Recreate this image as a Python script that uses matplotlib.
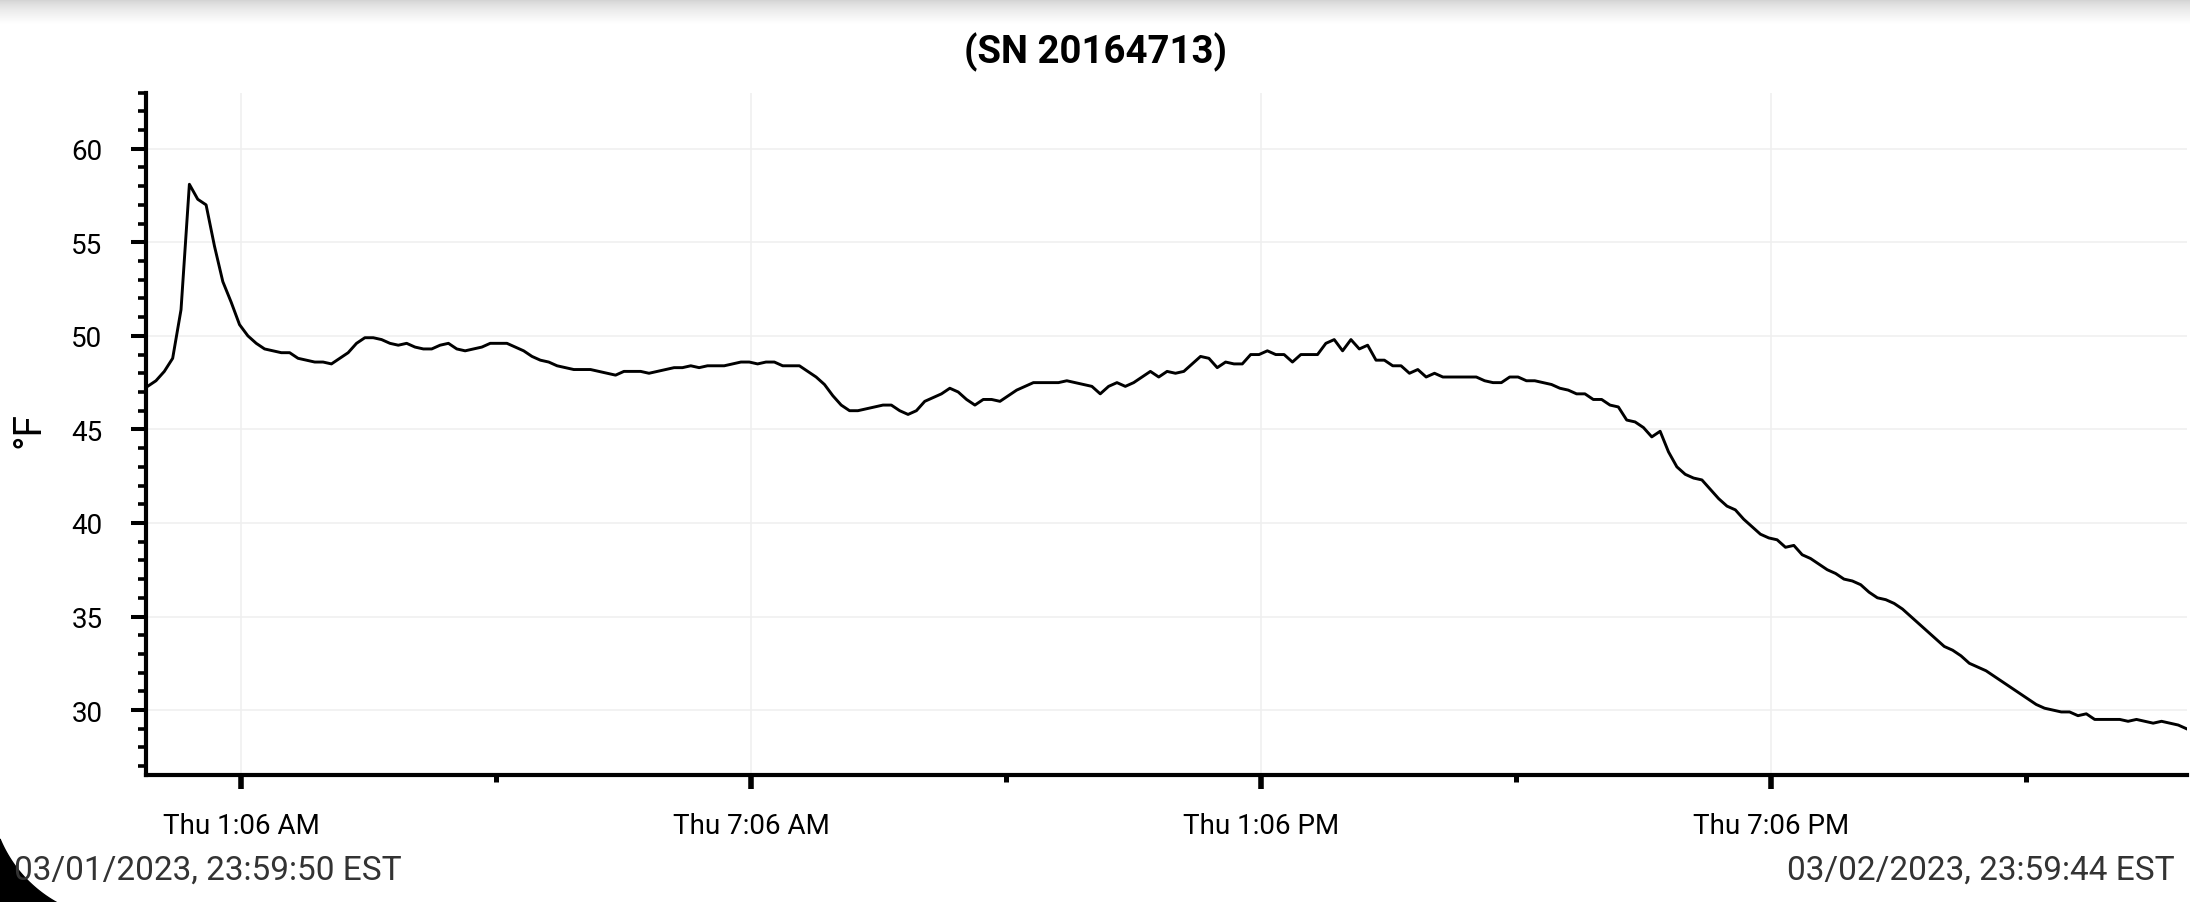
import datetime as dt
import numpy as np
import matplotlib
matplotlib.use("Agg")
import matplotlib.pyplot as plt
import matplotlib.dates as mdates
from matplotlib.patches import Polygon

plt.rcParams['font.family'] = ['Roboto', 'DejaVu Sans']

# logger data (one sample every ~6 min)
start = dt.datetime(2023, 3, 1, 23, 59, 50)
end = dt.datetime(2023, 3, 2, 23, 59, 44)
temps_f = [
    47.3, 47.6, 48.1, 48.8, 51.4, 58.1, 57.3, 57.0, 54.8, 52.9,
    51.8, 50.6, 50.0, 49.6, 49.3, 49.2, 49.1, 49.1, 48.8, 48.7,
    48.6, 48.6, 48.5, 48.8, 49.1, 49.6, 49.9, 49.9, 49.8, 49.6,
    49.5, 49.6, 49.4, 49.3, 49.3, 49.5, 49.6, 49.3, 49.2, 49.3,
    49.4, 49.6, 49.6, 49.6, 49.4, 49.2, 48.9, 48.7, 48.6, 48.4,
    48.3, 48.2, 48.2, 48.2, 48.1, 48.0, 47.9, 48.1, 48.1, 48.1,
    48.0, 48.1, 48.2, 48.3, 48.3, 48.4, 48.3, 48.4, 48.4, 48.4,
    48.5, 48.6, 48.6, 48.5, 48.6, 48.6, 48.4, 48.4, 48.4, 48.1,
    47.8, 47.4, 46.8, 46.3, 46.0, 46.0, 46.1, 46.2, 46.3, 46.3,
    46.0, 45.8, 46.0, 46.5, 46.7, 46.9, 47.2, 47.0, 46.6, 46.3,
    46.6, 46.6, 46.5, 46.8, 47.1, 47.3, 47.5, 47.5, 47.5, 47.5,
    47.6, 47.5, 47.4, 47.3, 46.9, 47.3, 47.5, 47.3, 47.5, 47.8,
    48.1, 47.8, 48.1, 48.0, 48.1, 48.5, 48.9, 48.8, 48.3, 48.6,
    48.5, 48.5, 49.0, 49.0, 49.2, 49.0, 49.0, 48.6, 49.0, 49.0,
    49.0, 49.6, 49.8, 49.2, 49.8, 49.3, 49.5, 48.7, 48.7, 48.4,
    48.4, 48.0, 48.2, 47.8, 48.0, 47.8, 47.8, 47.8, 47.8, 47.8,
    47.6, 47.5, 47.5, 47.8, 47.8, 47.6, 47.6, 47.5, 47.4, 47.2,
    47.1, 46.9, 46.9, 46.6, 46.6, 46.3, 46.2, 45.5, 45.4, 45.1,
    44.6, 44.9, 43.8, 43.0, 42.6, 42.4, 42.3, 41.8, 41.3, 40.9,
    40.7, 40.2, 39.8, 39.4, 39.2, 39.1, 38.7, 38.8, 38.3, 38.1,
    37.8, 37.5, 37.3, 37.0, 36.9, 36.7, 36.3, 36.0, 35.9, 35.7,
    35.4, 35.0, 34.6, 34.2, 33.8, 33.4, 33.2, 32.9, 32.5, 32.3,
    32.1, 31.8, 31.5, 31.2, 30.9, 30.6, 30.3, 30.1, 30.0, 29.9,
    29.9, 29.7, 29.8, 29.5, 29.5, 29.5, 29.5, 29.4, 29.5, 29.4,
    29.3, 29.4, 29.3, 29.2, 29.0,
]

major_times = [dt.datetime(2023, 3, 2, h, 6) for h in (1, 7, 13, 19)]
minor_times = [dt.datetime(2023, 3, 2, h, 6) for h in (4, 10, 16, 22)]
major_labels = ["Thu 1:06 AM", "Thu 7:06 AM", "Thu 1:06 PM", "Thu 7:06 PM"]
y_major = [30, 35, 40, 45, 50, 55, 60]

title = "(SN 20164713)"
start_label = "03/01/2023, 23:59:50 EST"
end_label = "03/02/2023, 23:59:44 EST"

t0 = mdates.date2num(start)
t1 = mdates.date2num(end)
times = np.linspace(t0, t1, len(temps_f))

W, H = 2190, 903
px_per_day = 84.97 * 24
left_px = 145.5
pad_days = (147.6 - left_px) / px_per_day

fig = plt.figure(figsize=(W / 100, H / 100), dpi=100)
ax = fig.add_axes([left_px / W, 1 - 776 / H, (2186.6 - left_px) / W,
                   (776 - 93.6) / H])

ax.plot(times, temps_f, color="black", lw=2.1, zorder=3)
ax.set_xlim(t0 - pad_days, t1)
ax.set_ylim(26.53, 63)

ax.set_xticks([mdates.date2num(t) for t in major_times])
ax.set_xticklabels(major_labels)
ax.set_xticks([mdates.date2num(t) for t in minor_times], minor=True)
ax.set_yticks(y_major)
ax.set_yticks(np.arange(27, 64, 1), minor=True)

ax.grid(True, which="major", color="#efefef", lw=1.1, zorder=0)

for s in ("top", "right"):
    ax.spines[s].set_visible(False)
for s in ("left", "bottom"):
    ax.spines[s].set_linewidth(3.0)
    ax.spines[s].set_color("black")

ax.tick_params(axis="y", which="major", length=11, width=2.9, pad=20,
               labelsize=20, colors="black")
ax.tick_params(axis="y", which="minor", length=6, width=2.6)
ax.tick_params(axis="x", which="major", length=10, width=4.0, pad=17,
               labelsize=20, colors="black")
ax.tick_params(axis="x", which="minor", length=5, width=3.6)

fig.text(0.5, 1 - 52 / H, title, ha="center", va="center",
         fontsize=27.5, fontweight="bold")
fig.text(29 / W, 1 - 430 / H, "°F", rotation=90, ha="center", va="center",
         fontsize=28)
fig.text(14 / W, 1 - 880 / H, start_label, ha="left", va="baseline",
         fontsize=24, color="#333333")
fig.text(2175 / W, 1 - 880 / H, end_label, ha="right", va="baseline",
         fontsize=24, color="#333333")

# screenshot shadow along the top edge
shade = fig.add_axes([0, 1 - 26 / H, 1, 26 / H])
fade = np.linspace(0, 1, 26) ** 0.6
shade.imshow((0.8 + 0.2 * fade)[:, None], cmap="gray", vmin=0, vmax=1,
             aspect="auto", interpolation="bilinear")
shade.set_axis_off()

# rounded screen corner, bottom left
ang = np.radians(np.linspace(202.6, 241.5, 40))
cx, cy, r = 120, 113, 130
pts = [((cx + r * np.cos(a)) / W, (cy + r * np.sin(a)) / H) for a in ang]
pts.append((0, 0))
fig.patches.append(Polygon(pts, closed=True, color="black",
                           transform=fig.transFigure, figure=fig))

fig.savefig("out.png", dpi=100)
